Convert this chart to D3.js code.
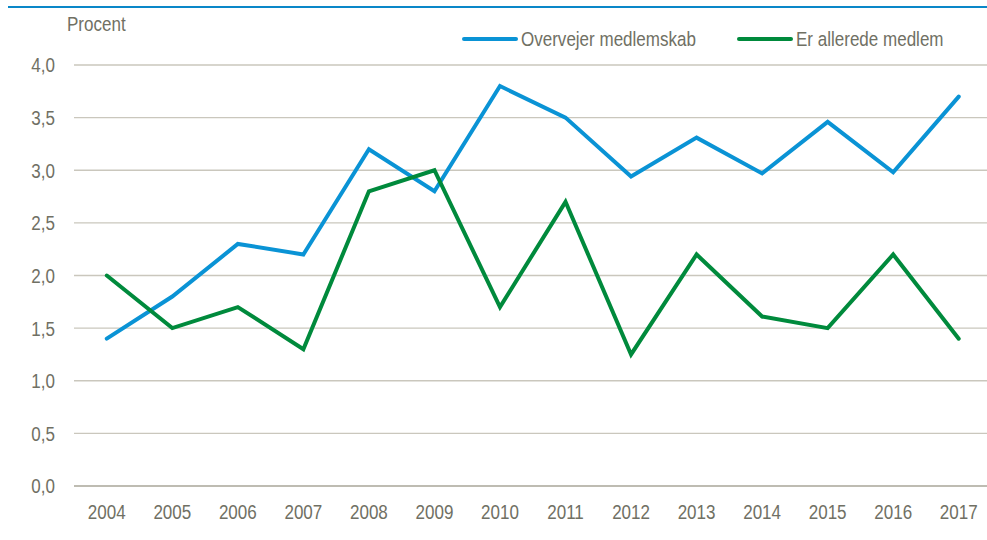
<!DOCTYPE html>
<html>
<head>
<meta charset="utf-8">
<script src="https://cdn.jsdelivr.net/npm/d3@7"></script>
<style>
  html, body { margin: 0; padding: 0; background: #fff; }
  svg text { font-family: "Liberation Sans", Arial, sans-serif; fill: #707064; }
</style>
</head>
<body>
<svg id="chart" width="987" height="540"></svg>
<script>
/* data */
const years = ["2004", "2005", "2006", "2007", "2008", "2009", "2010", "2011", "2012", "2013", "2014", "2015", "2016", "2017"];
const overvejer = [1.4, 1.8, 2.3, 2.2, 3.2, 2.8, 3.8, 3.5, 2.94, 3.31, 2.97, 3.46, 2.98, 3.7];
const allerede = [2.0, 1.5, 1.7, 1.3, 2.8, 3.0, 1.7, 2.7, 1.25, 2.2, 1.61, 1.5, 2.2, 1.4];
const yTicks = [0, 0.5, 1, 1.5, 2, 2.5, 3, 3.5, 4];
const seriesNames = ["Overvejer medlemskab", "Er allerede medlem"];
const colors = ["#0a93d5", "#008a3c"];

const svg = d3.select("#chart");
const fontSize = 20.5;
const squeeze = 0.83; // reference font is a narrow face

function narrow(sel) {
  sel.each(function () {
    const w = this.getComputedTextLength();
    d3.select(this).attr("textLength", w * squeeze).attr("lengthAdjust", "spacingAndGlyphs");
  });
}

/* blue rule under the (cut off) title */
svg.append("line").attr("x1", 8).attr("x2", 987).attr("y1", 7).attr("y2", 7)
  .attr("stroke", "#0a87c8").attr("stroke-width", 2);

const x = d3.scaleBand().domain(years).range([74, 991.5]);
const y = d3.scaleLinear().domain([0, 4]).range([486, 65]);

/* gridlines */
svg.append("g").selectAll("line").data(yTicks).join("line")
  .attr("x1", 74).attr("x2", 987)
  .attr("y1", d => y(d)).attr("y2", d => y(d))
  .attr("stroke", d => d === 0 ? "#a9a699" : "#cac7bd").attr("stroke-width", 1.3);

/* y axis labels */
const fmt = d => d.toFixed(1).replace(".", ",");
svg.append("g").selectAll("text").data(yTicks).join("text")
  .attr("x", 55).attr("y", d => y(d)).attr("dy", "0.36em")
  .attr("text-anchor", "end").attr("font-size", fontSize)
  .text(fmt).call(narrow);

/* x axis labels */
svg.append("g").selectAll("text").data(years).join("text")
  .attr("x", d => x(d) + x.bandwidth() / 2).attr("y", 519)
  .attr("text-anchor", "middle").attr("font-size", fontSize)
  .text(d => d).call(narrow);

svg.append("text").attr("x", 67).attr("y", 31).attr("font-size", fontSize).text("Procent").call(narrow);

/* lines */
const line = d3.line().x((d, i) => x(years[i]) + x.bandwidth() / 2).y(d => y(d));
[overvejer, allerede].forEach((vals, k) => {
  svg.append("path").datum(vals)
    .attr("fill", "none").attr("stroke", colors[k]).attr("stroke-width", 4)
    .attr("stroke-linejoin", "miter").attr("stroke-linecap", "round")
    .attr("d", line);
});

/* legend */
const legendX = [464, 739];
seriesNames.forEach((name, k) => {
  const lg = svg.append("g").attr("transform", `translate(${legendX[k]},39)`);
  lg.append("line").attr("x1", 0).attr("x2", 52).attr("y1", 0).attr("y2", 0)
    .attr("stroke", colors[k]).attr("stroke-width", 4).attr("stroke-linecap", "round");
  lg.append("text").attr("x", 57).attr("dy", "0.36em").attr("font-size", fontSize).text(name).call(narrow);
});
</script>
</body>
</html>
